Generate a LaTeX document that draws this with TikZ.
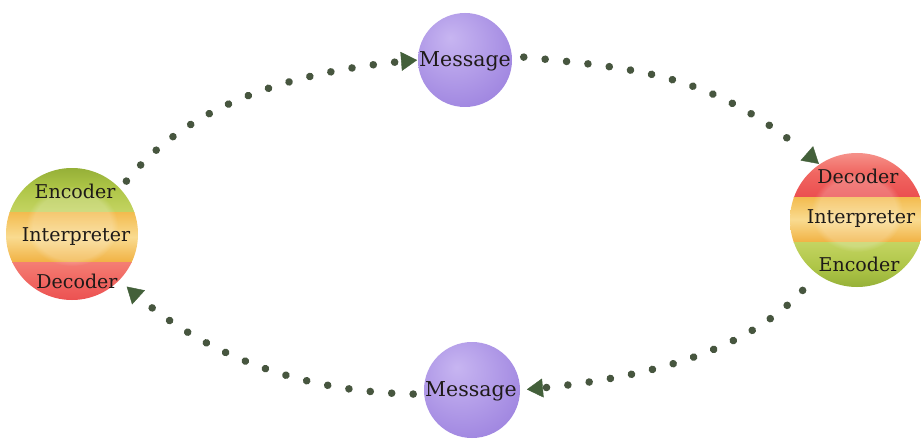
\documentclass[tikz,border=0pt]{standalone}
\usepackage{fontspec}
\setmainfont{DejaVu Serif}
\usetikzlibrary{decorations.markings,arrows.meta,fadings}
\definecolor{dotc}{HTML}{47563F}
\definecolor{arrc}{HTML}{43603A}
\definecolor{txtc}{HTML}{1E1A18}
\definecolor{gTop}{HTML}{93AE36}
\definecolor{gMid}{HTML}{AFC648}
\definecolor{gBot}{HTML}{C4D462}
\definecolor{oTop}{HTML}{F3BB4E}
\definecolor{oMid}{HTML}{F9DB90}
\definecolor{oBot}{HTML}{F1B244}
\definecolor{rTop}{HTML}{F47E74}
\definecolor{rMid}{HTML}{F06560}
\definecolor{rBot}{HTML}{EB4F50}
\definecolor{msgL}{HTML}{C7B5F1}
\definecolor{msgM}{HTML}{9F85E0}
\definecolor{msgO}{HTML}{7F60CC}
\pgfdeclareradialshading{msgball}{\pgfpoint{-8bp}{12bp}}{color(0bp)=(msgL); color(14bp)=(msgL!60!msgM); color(34bp)=(msgM); color(52bp)=(msgO); color(70bp)=(msgO)}
\begin{document}
\begin{tikzpicture}[x=1pt,y=-1pt,
  ball/.style={circle, inner sep=0pt, outer sep=0pt, minimum size=#1},
  lbl/.style={text=txtc, font=\fontsize{19}{21}\selectfont, inner sep=0pt},
  msg/.style={text=txtc, font=\fontsize{20.5}{22}\selectfont, inner sep=0pt},
  conn/.style n args={3}{postaction={decorate}, decoration={markings,
     mark=between positions #1 and #2 step 21.5pt with {\fill[dotc] (0,0) circle (3.8pt);},
     mark=at position #3 with {\arrow[color=arrc]{Triangle[length=16pt,width=19pt]}}}}
]
\useasboundingbox (0,0) rectangle (921,441);
\fill[white] (0,0) rectangle (921,441);

% ---- left sphere
\node[ball=132pt] (L) at (72,234) {};
\begin{scope}
\clip (72,234) circle (66);
\shade[top color=gTop, bottom color=gBot, middle color=gMid] (0,166) rectangle (140,212);
\shade[top color=oTop, bottom color=oBot, middle color=oMid] (0,212) rectangle (140,262);
\shade[top color=rTop, bottom color=rBot, middle color=rMid] (0,262) rectangle (140,302);
\fill[white, opacity=0.2, path fading=circle with fuzzy edge 15 percent] (72,226) ellipse (46 and 40);
\end{scope}
\node[lbl] (L1) at (75,191) {Encoder};
\node[lbl] (L2) at (76,237) {Interpreter};
\node[lbl] (L3) at (77,281) {Decoder};

% ---- right sphere
\node[ball=134pt] (R) at (857,220) {};
\begin{scope}
\clip (857,220) circle (67);
\shade[top color=rTop!80!white, bottom color=rBot, middle color=rMid] (780,150) rectangle (930,197);
\shade[top color=oTop, bottom color=oBot, middle color=oMid] (780,197) rectangle (930,242);
\shade[top color=gBot, bottom color=gTop, middle color=gMid] (780,242) rectangle (930,290);
\fill[white, opacity=0.2, path fading=circle with fuzzy edge 15 percent] (857,212) ellipse (46 and 40);
\end{scope}
\node[lbl] (R1) at (858,176) {Decoder};
\node[lbl] (R2) at (861,219) {Interpreter};
\node[lbl] (R3) at (859,264) {Encoder};

% ---- message spheres
\node[ball=94pt, shading=msgball] (MT) at (465,60) {};
\node[msg] (MT1) at (465,61) {Message};
\node[ball=96pt, shading=msgball] (MB) at (472,390) {};
\node[msg] (MB1) at (471,391) {Message};

% ---- connectors
\path[conn={10pt}{-20pt}{-1pt}] (L.43) .. controls (174,117) and (268,72) .. (MT.west);
\path[conn={12pt}{-24pt}{-1pt}] (MT.5) .. controls (642,69) and (714,72) .. (R.124);
\path[conn={22pt}{-22pt}{-7pt}] (R.233) .. controls (769,338) and (678,377) .. (MB.east);
\path[conn={11pt}{-34pt}{-10pt}] (MB.185) .. controls (274,394) and (177,335) .. (L.-44);
\end{tikzpicture}
\end{document}
